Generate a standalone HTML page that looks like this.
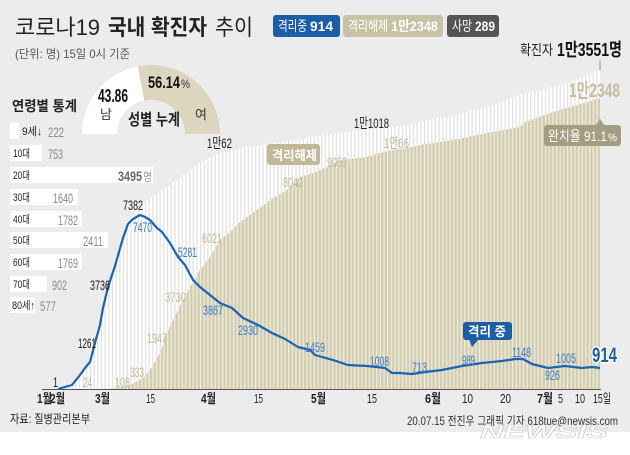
<!DOCTYPE html>
<html><head><meta charset="utf-8">
<style>
html,body{margin:0;padding:0;background:#fff;}
svg{display:block;}
text{font-family:"Liberation Sans","Noto Sans CJK KR",sans-serif;}
.b{font-weight:bold;}
</style></head>
<body>
<svg width="630" height="455" viewBox="0 0 630 455" xmlns="http://www.w3.org/2000/svg">
<defs>
<pattern id="pw" patternUnits="userSpaceOnUse" x="600" y="0" width="3.67" height="10">
<rect width="3.67" height="10" fill="#ffffff"/><rect width="1.2" height="10" fill="#e0e0e0"/>
</pattern>
<pattern id="pb" patternUnits="userSpaceOnUse" x="600" y="0" width="3.67" height="10">
<rect width="3.67" height="10" fill="#d4ceb1"/><rect width="1.2" height="10" fill="#efece2"/>
</pattern>
</defs>
<rect x="0" y="0" width="630" height="432" fill="#ececec"/>

<!-- Title -->
<text x="15" y="35" font-size="22" fill="#222" textLength="85" lengthAdjust="spacingAndGlyphs">코로나19</text>
<text x="108" y="35" font-size="22" fill="#222" class="b" textLength="99" lengthAdjust="spacingAndGlyphs">국내 확진자</text>
<text x="215" y="35" font-size="22" fill="#222" textLength="38" lengthAdjust="spacingAndGlyphs">추이</text>
<text x="15" y="58" font-size="12" fill="#555" textLength="115" lengthAdjust="spacingAndGlyphs">(단위: 명) 15일 0시 기준</text>

<!-- Badges -->
<rect x="273" y="15" width="67" height="22" rx="3" fill="#1a5ea8"/>
<text x="278" y="31" font-size="14" fill="#fff" textLength="29" lengthAdjust="spacingAndGlyphs">격리중</text>
<text x="310" y="31" font-size="14" fill="#fff" class="b" textLength="23" lengthAdjust="spacingAndGlyphs">914</text>
<rect x="343" y="15" width="100" height="22" rx="3" fill="#c9c3a5"/>
<text x="348" y="31" font-size="14" fill="#fff" textLength="40" lengthAdjust="spacingAndGlyphs">격리해제</text>
<text x="391" y="31" font-size="14" fill="#fff" class="b" textLength="47" lengthAdjust="spacingAndGlyphs">1만2348</text>
<rect x="447" y="15" width="52" height="22" rx="3" fill="#555"/>
<text x="452" y="31" font-size="14" fill="#fff" textLength="20" lengthAdjust="spacingAndGlyphs">사망</text>
<text x="475" y="31" font-size="14" fill="#fff" class="b" textLength="20" lengthAdjust="spacingAndGlyphs">289</text>

<!-- Top right totals -->
<text x="520" y="55" font-size="14" fill="#222" textLength="33" lengthAdjust="spacingAndGlyphs">확진자</text>
<text x="557" y="56" font-size="18" fill="#111" class="b" textLength="65" lengthAdjust="spacingAndGlyphs">1만3551명</text>
<line x1="600" y1="60" x2="600" y2="71" stroke="#999" stroke-width="1"/>

<!-- Donut -->
<path d="M82,134 A69,69 0 0 1 137.8,66.3 L144.3,100.6 A34,34 0 0 0 117,134 Z" fill="#ffffff"/>
<path d="M137.8,66.3 A69,69 0 0 1 220,134 L185,134 A34,34 0 0 0 144.3,100.6 Z" fill="#dcd6bf"/>
<text x="98" y="102" font-size="18" fill="#111" class="b" textLength="30" lengthAdjust="spacingAndGlyphs">43.86</text>
<text x="148" y="88" font-size="17" fill="#111" class="b" textLength="32" lengthAdjust="spacingAndGlyphs">56.14</text>
<text x="181" y="88" font-size="12" fill="#333" textLength="9" lengthAdjust="spacingAndGlyphs">%</text>
<text x="100" y="119" font-size="13" fill="#333">남</text>
<text x="195" y="119" font-size="13" fill="#333">여</text>
<text x="128" y="125" font-size="16" fill="#222" class="b" textLength="52" lengthAdjust="spacingAndGlyphs">성별 누계</text>

<!-- Age stats -->
<text x="12" y="111" font-size="14" fill="#222" class="b" textLength="65" lengthAdjust="spacingAndGlyphs">연령별 통계</text>
<rect x="10" y="123" width="9" height="16" fill="#fff"/>
<rect x="10" y="145" width="32" height="16" fill="#fff"/>
<rect x="10" y="167" width="143" height="16" fill="#fff"/>
<rect x="10" y="189" width="68" height="16" fill="#fff"/>
<rect x="10" y="211" width="72" height="16" fill="#fff"/>
<rect x="10" y="232" width="98" height="16" fill="#fff"/>
<rect x="10" y="254" width="72" height="16" fill="#fff"/>
<rect x="10" y="276" width="37" height="16" fill="#fff"/>
<rect x="10" y="297" width="25" height="16" fill="#fff"/>
<g font-size="11" fill="#222">
<text x="22" y="135" textLength="20" lengthAdjust="spacingAndGlyphs">9세↓</text>
<text x="13" y="157" textLength="17" lengthAdjust="spacingAndGlyphs">10대</text>
<text x="13" y="179" textLength="17" lengthAdjust="spacingAndGlyphs">20대</text>
<text x="13" y="201" textLength="17" lengthAdjust="spacingAndGlyphs">30대</text>
<text x="13" y="223" textLength="17" lengthAdjust="spacingAndGlyphs">40대</text>
<text x="13" y="244" textLength="17" lengthAdjust="spacingAndGlyphs">50대</text>
<text x="13" y="266" textLength="17" lengthAdjust="spacingAndGlyphs">60대</text>
<text x="13" y="288" textLength="17" lengthAdjust="spacingAndGlyphs">70대</text>
<text x="12" y="309" textLength="23" lengthAdjust="spacingAndGlyphs">80세↑</text>
</g>
<g font-size="14" fill="#8a8a8a">
<text x="48" y="137" textLength="16" lengthAdjust="spacingAndGlyphs">222</text>
<text x="48" y="159" textLength="15" lengthAdjust="spacingAndGlyphs">753</text>
<text x="53" y="203" textLength="20" lengthAdjust="spacingAndGlyphs">1640</text>
<text x="58" y="225" textLength="20" lengthAdjust="spacingAndGlyphs">1782</text>
<text x="83" y="246" textLength="20" lengthAdjust="spacingAndGlyphs">2411</text>
<text x="58" y="268" textLength="20" lengthAdjust="spacingAndGlyphs">1769</text>
<text x="52" y="290" textLength="15" lengthAdjust="spacingAndGlyphs">902</text>
<text x="40" y="311" textLength="16" lengthAdjust="spacingAndGlyphs">577</text>
</g>
<text x="118" y="181" font-size="14" fill="#666" class="b" textLength="24" lengthAdjust="spacingAndGlyphs">3495</text>
<text x="143" y="181" font-size="12" fill="#999" textLength="9" lengthAdjust="spacingAndGlyphs">명</text>

<!-- Bars: cumulative confirmed (white) -->
<polygon fill="url(#pw)" points="57,389 62,388 65,387 72,385 80,375 85,368 90,361 95,343 100,325 103,305 108,285 115,265 123,238 128,224 133,216 137,210 141,205 152,197 160,192 170,185 180,178 190,170 200,163 220,153 247,147 280,142 313,137 347,132 380,128 413,125 420,122 453,115 487,107 520,95 553,87 570,82 587,75 600,70 600,389"/>
<!-- Bars: released (beige) -->
<polygon fill="url(#pb)" points="110,389 120,387 130,385 143,378 150,370 160,353 167,333 173,320 180,306 190,287 200,270 210,257 220,240 230,232 240,222 247,217 260,208 273,198 287,190 300,177 313,173 327,167 340,160 367,157 380,153 393,150 413,147 420,145 453,140 487,133 520,127 525,122 553,112 570,107 587,102 600,98 600,389"/>

<!-- baseline -->
<line x1="42" y1="389.5" x2="601" y2="389.5" stroke="#555" stroke-width="1"/>

<!-- Active line -->
<polyline fill="none" stroke="#1764b4" stroke-width="2.2" stroke-linejoin="round" points="58,389 65,387 72,385 80,375 85,368 90,362 95,343 100,325 103,308 108,287 115,266 123,238 128,224 133,219 140,215 145,217 150,220 157,228 162,232 170,243 178,257 185,265 193,280 200,287 210,295 220,303 232,308 243,318 258,325 272,333 285,339 298,347 310,350 315,355 333,360 348,365 367,366 385,368 392,373 400,373 412,374 425,372 442,370 462,366 482,363 502,361 515,359 523,359 532,364 548,368 565,366 582,368 592,367 600,368"/>

<!-- Labels -->
<g font-size="14">
<text x="53" y="387" fill="#222" textLength="5" lengthAdjust="spacingAndGlyphs">1</text>
<text x="78" y="348" fill="#222" textLength="18" lengthAdjust="spacingAndGlyphs">1261</text>
<text x="90" y="290" fill="#222" textLength="20" lengthAdjust="spacingAndGlyphs">3736</text>
<text x="123" y="210" fill="#222" textLength="20" lengthAdjust="spacingAndGlyphs">7382</text>
<text x="207" y="148" fill="#222" textLength="25" lengthAdjust="spacingAndGlyphs">1만62</text>
<text x="354" y="128" fill="#222" textLength="35" lengthAdjust="spacingAndGlyphs">1만1018</text>

<text x="133" y="232" fill="#3b7cc4" textLength="19" lengthAdjust="spacingAndGlyphs">7470</text>
<text x="178" y="257" fill="#3b7cc4" textLength="19" lengthAdjust="spacingAndGlyphs">5281</text>
<text x="203" y="315" fill="#3b7cc4" textLength="20" lengthAdjust="spacingAndGlyphs">3867</text>
<text x="238" y="335" fill="#3b7cc4" textLength="20" lengthAdjust="spacingAndGlyphs">2930</text>
<text x="305" y="352" fill="#3b7cc4" textLength="20" lengthAdjust="spacingAndGlyphs">1459</text>
<text x="370" y="366" fill="#3b7cc4" textLength="19" lengthAdjust="spacingAndGlyphs">1008</text>
<text x="412" y="372" fill="#3b7cc4" textLength="15" lengthAdjust="spacingAndGlyphs">713</text>
<text x="462" y="365" fill="#3b7cc4" textLength="13" lengthAdjust="spacingAndGlyphs">989</text>
<text x="512" y="357" fill="#3b7cc4" textLength="19" lengthAdjust="spacingAndGlyphs">1148</text>
<text x="545" y="380" fill="#3b7cc4" textLength="15" lengthAdjust="spacingAndGlyphs">926</text>
<text x="556" y="363" fill="#3b7cc4" textLength="20" lengthAdjust="spacingAndGlyphs">1005</text>

<text x="83" y="387" fill="#c2ba9a" textLength="9" lengthAdjust="spacingAndGlyphs">24</text>
<text x="115" y="387" fill="#c2ba9a" textLength="15" lengthAdjust="spacingAndGlyphs">108</text>
<text x="130" y="377" fill="#c2ba9a" textLength="14" lengthAdjust="spacingAndGlyphs">333</text>
<text x="147" y="343" fill="#c2ba9a" textLength="20" lengthAdjust="spacingAndGlyphs">1947</text>
<text x="165" y="302" fill="#c2ba9a" textLength="21" lengthAdjust="spacingAndGlyphs">3730</text>
<text x="202" y="243" fill="#c2ba9a" textLength="20" lengthAdjust="spacingAndGlyphs">6021</text>
<text x="283" y="187" fill="#c2ba9a" textLength="20" lengthAdjust="spacingAndGlyphs">8042</text>
<text x="327" y="167" fill="#c2ba9a" textLength="20" lengthAdjust="spacingAndGlyphs">9059</text>
<text x="384" y="148" fill="#c2ba9a" textLength="25" lengthAdjust="spacingAndGlyphs">1만66</text>
</g>

<!-- 격리해제 badge -->
<rect x="267" y="144" width="53" height="21" rx="3" fill="#c0b897"/>
<text x="272" y="160" font-size="13" fill="#fff" class="b" textLength="45" lengthAdjust="spacingAndGlyphs">격리해제</text>

<!-- 1만2348 and 완치율 -->
<text x="569" y="97" font-size="19" fill="#c6be9f" class="b" textLength="51" lengthAdjust="spacingAndGlyphs">1만2348</text>
<polygon points="595,126 605,126 600,119" fill="#a59d80"/>
<rect x="544" y="125" width="77" height="21" rx="3" fill="#a59d80"/>
<text x="548" y="141" font-size="14" fill="#fff" textLength="59" lengthAdjust="spacingAndGlyphs">완치율 91.1</text>
<text x="608" y="141" font-size="11" fill="#fff" textLength="9" lengthAdjust="spacingAndGlyphs">%</text>

<!-- 격리 중 badge -->
<rect x="463" y="322" width="49" height="18" rx="3" fill="#1a5ea8"/>
<polygon points="469,339 479,339 472,347" fill="#1a5ea8"/>
<text x="468" y="336" font-size="13" fill="#fff" class="b" textLength="38" lengthAdjust="spacingAndGlyphs">격리 중</text>

<!-- 914 -->
<text x="592" y="362" font-size="21" fill="#1a5ea8" class="b" stroke="#fff" stroke-width="3" paint-order="stroke" stroke-linejoin="round" textLength="25" lengthAdjust="spacingAndGlyphs">914</text>

<!-- X axis labels -->
<g font-size="13" fill="#222">
<text x="37" y="403" class="b" textLength="15" lengthAdjust="spacingAndGlyphs">1월</text>
<text x="50" y="403" class="b" textLength="15" lengthAdjust="spacingAndGlyphs">2월</text>
<text x="95" y="403" class="b" textLength="15" lengthAdjust="spacingAndGlyphs">3월</text>
<text x="146" y="403" textLength="9" lengthAdjust="spacingAndGlyphs">15</text>
<text x="201" y="403" class="b" textLength="15" lengthAdjust="spacingAndGlyphs">4월</text>
<text x="254" y="403" textLength="9" lengthAdjust="spacingAndGlyphs">15</text>
<text x="311" y="403" class="b" textLength="15" lengthAdjust="spacingAndGlyphs">5월</text>
<text x="367" y="403" textLength="10" lengthAdjust="spacingAndGlyphs">15</text>
<text x="425" y="403" class="b" textLength="16" lengthAdjust="spacingAndGlyphs">6월</text>
<text x="462" y="403" textLength="11" lengthAdjust="spacingAndGlyphs">10</text>
<text x="500" y="403" textLength="11" lengthAdjust="spacingAndGlyphs">20</text>
<text x="537" y="403" class="b" textLength="16" lengthAdjust="spacingAndGlyphs">7월</text>
<text x="558" y="403" textLength="5" lengthAdjust="spacingAndGlyphs">5</text>
<text x="575" y="403" textLength="10" lengthAdjust="spacingAndGlyphs">10</text>
<text x="593" y="403" textLength="18" lengthAdjust="spacingAndGlyphs">15일</text>
</g>

<!-- Footer -->
<text x="10" y="423" font-size="12" fill="#222" textLength="80" lengthAdjust="spacingAndGlyphs">자료: 질병관리본부</text>
<text x="407" y="425" font-size="12" fill="#333" textLength="211" lengthAdjust="spacingAndGlyphs">20.07.15 전진우 그래픽 기자 618tue@newsis.com</text>
<text x="480" y="438" font-size="18" font-weight="bold" font-style="italic" fill="#ffffff" fill-opacity="0.8" stroke="#cfcfcf" stroke-width="0.6" textLength="128" lengthAdjust="spacingAndGlyphs">NEWSIS</text>
</svg>
</body></html>
